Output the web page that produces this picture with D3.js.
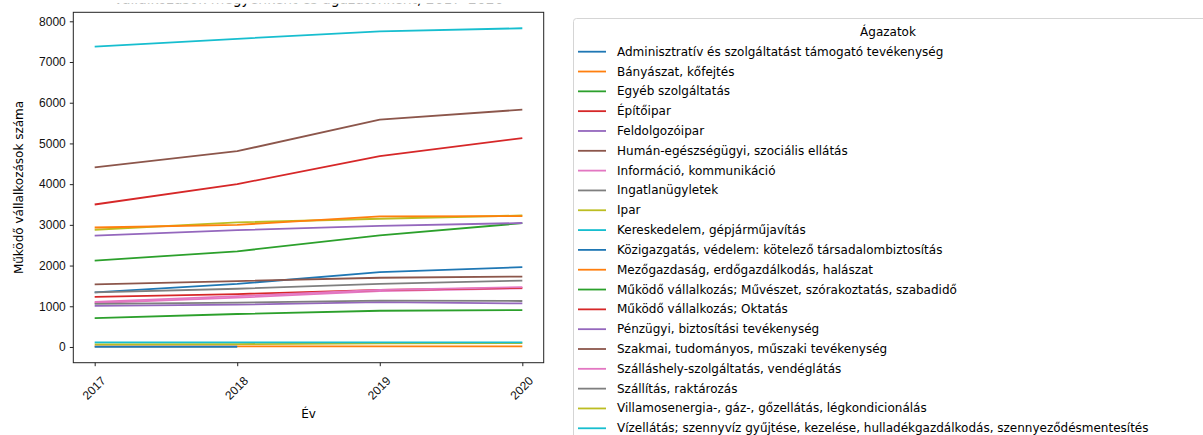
<!DOCTYPE html>
<html>
<head>
<meta charset="utf-8">
<script src="https://cdn.jsdelivr.net/npm/d3@7"></script>
<style>
  body { margin: 0; background: #fff; }
  svg { display: block; font-family: "DejaVu Sans", sans-serif; }
</style>
</head>
<body>
<div id="line-graph"></div>
<script>
const years = [2017, 2018, 2019, 2020];

const sectors = [
  "Adminisztratív és szolgáltatást támogató tevékenység",
  "Bányászat, kőfejtés",
  "Egyéb szolgáltatás",
  "Építőipar",
  "Feldolgozóipar",
  "Humán-egészségügyi, szociális ellátás",
  "Információ, kommunikáció",
  "Ingatlanügyletek",
  "Ipar",
  "Kereskedelem, gépjárműjavítás",
  "Közigazgatás, védelem: kötelező társadalombiztosítás",
  "Mezőgazdaság, erdőgazdálkodás, halászat",
  "Működő vállalkozás; Művészet, szórakoztatás, szabadidő",
  "Működő vállalkozás; Oktatás",
  "Pénzügyi, biztosítási tevékenység",
  "Szakmai, tudományos, műszaki tevékenység",
  "Szálláshely-szolgáltatás, vendéglátás",
  "Szállítás, raktározás",
  "Villamosenergia-, gáz-, gőzellátás, légkondicionálás",
  "Vízellátás; szennyvíz gyűjtése, kezelése, hulladékgazdálkodás, szennyeződésmentesítés"
];

// one array per sector, same order as above
const adminisztrativ = [1340, 1550, 1840, 1960];
const banyaszat      = [15, 15, 15, 15];
const egyeb          = [2120, 2350, 2740, 3040];
const epitoipar      = [3500, 4000, 4690, 5130];
const feldolgozo     = [2735, 2870, 2975, 3045];
const human          = [1540, 1620, 1700, 1730];
const informacio     = [1080, 1210, 1370, 1440];
const ingatlan       = [1340, 1430, 1550, 1630];
const ipar           = [2880, 3060, 3150, 3230];
const kereskedelem   = [7380, 7570, 7755, 7830];
const kozigazgatas   = [5, 5, null, null];
const mezogazdasag   = [2935, 3000, 3210, 3215];
const muveszet       = [710, 810, 890, 905];
const oktatas        = [1230, 1300, 1400, 1450];
const penzugyi       = [1010, 1040, 1100, 1070];
const szakmai        = [4410, 4810, 5585, 5830];
const szallashely    = [1110, 1250, 1400, 1470];
const szallitas      = [1060, 1090, 1140, 1130];
const villamos       = [65, 70, 90, 95];
const vizellatas     = [115, 115, 115, 115];

const seriesValues = [adminisztrativ, banyaszat, egyeb, epitoipar, feldolgozo, human,
  informacio, ingatlan, ipar, kereskedelem, kozigazgatas, mezogazdasag, muveszet,
  oktatas, penzugyi, szakmai, szallashely, szallitas, villamos, vizellatas];

const yTicks = [0, 1000, 2000, 3000, 4000, 5000, 6000, 7000, 8000];

function initLineGraph(selector) {
  const width = 1203, height = 435;
  const plot = {left: 73.3, right: 543.7, top: 12.3, bottom: 362.7};

  const dataset = sectors.map((name, i) => ({
    name: name,
    points: years.map((yr, j) => ({x: yr, y: seriesValues[i][j]}))
  }));

  const allVals = seriesValues.flat().filter(v => v != null);
  const lo = d3.min(allVals), hi = d3.max(allVals);
  const pad = (hi - lo) * 0.05;
  const yScale = d3.scaleLinear().domain([lo - pad, hi + pad]).range([plot.bottom, plot.top]);

  const xPad = (years[years.length - 1] - years[0]) * 0.05;
  const xScale = d3.scaleLinear()
    .domain([years[0] - xPad, years[years.length - 1] + xPad])
    .range([plot.left, plot.right]);

  const color = d3.scaleOrdinal().domain(sectors).range(d3.schemeCategory10);

  const svg = d3.select(selector).append("svg")
    .attr("width", width)
    .attr("height", height);

  // title: only its lowest pixels remain in the picture
  const defs = svg.append("defs");
  defs.append("clipPath").attr("id", "title-clip")
    .attr("clipPathUnits", "userSpaceOnUse")
    .append("rect").attr("x", 0).attr("y", 3.8).attr("width", width).attr("height", 10);
  svg.append("g")
    .attr("clip-path", "url(#title-clip)")
    .append("text")
    .attr("x", (plot.left + plot.right) / 2).attr("y", 4)
    .attr("text-anchor", "middle")
    .attr("textLength", 390)
    .attr("lengthAdjust", "spacingAndGlyphs")
    .style("font-size", "15px")
    .text("Vállalkozások megyénként és ágazatonként, 2017–2020");

  const line = d3.line()
    .defined(p => p.y != null)
    .x(p => xScale(p.x))
    .y(p => yScale(p.y));

  svg.append("g").selectAll("path")
    .data(dataset)
    .join("path")
    .attr("fill", "none")
    .attr("stroke", d => color(d.name))
    .attr("stroke-width", 1.8)
    .attr("stroke-linejoin", "round")
    .attr("d", d => line(d.points));

  // frame
  svg.append("rect")
    .attr("x", plot.left).attr("y", plot.top)
    .attr("width", plot.right - plot.left)
    .attr("height", plot.bottom - plot.top)
    .attr("fill", "none")
    .attr("stroke", "#222")
    .attr("stroke-width", 1);

  const yAxis = svg.append("g")
    .attr("transform", `translate(${plot.left},0)`)
    .call(d3.axisLeft(yScale).tickValues(yTicks).tickSize(3.5).tickPadding(4).tickFormat(d3.format("d")));
  yAxis.select(".domain").remove();
  yAxis.selectAll("text").style("font-size", "12px").attr("fill", "#111");
  yAxis.selectAll("line").attr("stroke", "#222");

  const xAxis = svg.append("g")
    .attr("transform", `translate(0,${plot.bottom})`)
    .call(d3.axisBottom(xScale).tickValues(years).tickSize(3.5).tickFormat(d3.format("d")));
  xAxis.select(".domain").remove();
  xAxis.selectAll("line").attr("stroke", "#222");
  xAxis.selectAll("text")
    .style("font-size", "12px")
    .attr("fill", "#111")
    .attr("text-anchor", "middle")
    .attr("dy", null)
    .attr("y", 0)
    .attr("dominant-baseline", "central")
    .attr("transform", "translate(-1,25.5) rotate(-45)");

  svg.append("text")
    .attr("x", (plot.left + plot.right) / 2).attr("y", 418)
    .attr("text-anchor", "middle")
    .style("font-size", "12px")
    .text("Év");

  svg.append("text")
    .attr("transform", `translate(23,${(plot.top + plot.bottom) / 2}) rotate(-90)`)
    .attr("text-anchor", "middle")
    .style("font-size", "12px")
    .text("Működő vállalkozások száma");

  // legend
  const legend = svg.append("g");
  legend.append("rect")
    .attr("x", 573.5).attr("y", 18.5)
    .attr("width", 700).attr("height", 460)
    .attr("rx", 3)
    .attr("fill", "#fff")
    .attr("stroke", "#d5d5d5");
  legend.append("text")
    .attr("x", 888).attr("y", 36)
    .attr("text-anchor", "middle")
    .style("font-size", "12px")
    .text("Ágazatok");

  const rowStep = 19.82;
  const rows = legend.selectAll("g.row")
    .data(dataset)
    .join("g")
    .attr("class", "row")
    .attr("transform", (d, i) => `translate(0,${51.7 + i * rowStep})`);
  rows.append("line")
    .attr("x1", 578).attr("x2", 606)
    .attr("stroke", d => color(d.name))
    .attr("stroke-width", 1.8);
  rows.append("text")
    .attr("x", 617).attr("y", 0)
    .attr("dominant-baseline", "central")
    .style("font-size", "12px")
    .text(d => d.name);
}

document.addEventListener('DOMContentLoaded', function () {
  initLineGraph("#line-graph");
});
</script>
</body>
</html>
